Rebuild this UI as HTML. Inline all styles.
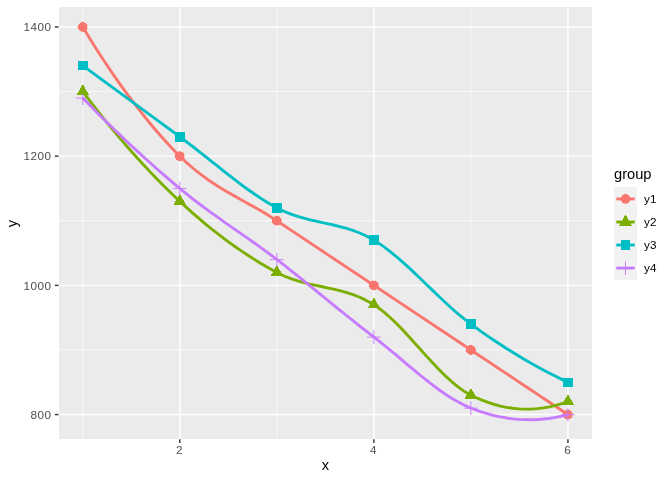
<!DOCTYPE html>
<html lang="en"><head><meta charset="utf-8"><title>plot</title>
<style>
html,body{margin:0;padding:0;background:#fff;}
body{width:672px;height:480px;overflow:hidden;}
svg{display:block;}
text{font-family:"Liberation Sans",Arial,Helvetica,sans-serif;}
.ax{font-size:11.73px;fill:#4D4D4D;letter-spacing:0.48px;}
.ti{font-size:14.67px;fill:#000;}
.lg{font-size:11.73px;fill:#000;letter-spacing:0.13px;}
.cr{shape-rendering:crispEdges;}
</style></head><body>
<svg width="672" height="480" viewBox="0 0 672 480">
<rect x="0" y="0" width="672" height="480" fill="#FFFFFF"/>
<rect class="cr" x="59" y="7" width="533" height="432" fill="#EBEBEB"/>
<g stroke="#FFFFFF" stroke-width="0.71" fill="none">
<line x1="58.52" x2="592.20" y1="349.96" y2="349.96"/>
<line x1="58.52" x2="592.20" y1="220.76" y2="220.76"/>
<line x1="58.52" x2="592.20" y1="91.57" y2="91.57"/>
<line y1="7.33" y2="439.35" x1="82.78" x2="82.78"/>
<line y1="7.33" y2="439.35" x1="276.84" x2="276.84"/>
<line y1="7.33" y2="439.35" x1="470.91" x2="470.91"/>
</g>
<g stroke="#FFFFFF" stroke-width="1.42" fill="none">
<line x1="58.52" x2="592.20" y1="414.56" y2="414.56"/>
<line x1="58.52" x2="592.20" y1="285.36" y2="285.36"/>
<line x1="58.52" x2="592.20" y1="156.16" y2="156.16"/>
<line x1="58.52" x2="592.20" y1="26.97" y2="26.97"/>
<line y1="7.33" y2="439.35" x1="179.81" x2="179.81"/>
<line y1="7.33" y2="439.35" x1="373.88" x2="373.88"/>
<line y1="7.33" y2="439.35" x1="567.94" x2="567.94"/>
</g>
<g>
<circle class="cr" cx="82.78" cy="26.97" r="4.74" fill="#F8766D"/><circle cx="82.78" cy="26.97" r="4.74" fill="none" stroke="#F8766D" stroke-width="0.35"/>
<circle class="cr" cx="179.81" cy="156.16" r="4.74" fill="#F8766D"/><circle cx="179.81" cy="156.16" r="4.74" fill="none" stroke="#F8766D" stroke-width="0.35"/>
<circle class="cr" cx="276.84" cy="220.76" r="4.74" fill="#F8766D"/><circle cx="276.84" cy="220.76" r="4.74" fill="none" stroke="#F8766D" stroke-width="0.35"/>
<circle class="cr" cx="373.88" cy="285.36" r="4.74" fill="#F8766D"/><circle cx="373.88" cy="285.36" r="4.74" fill="none" stroke="#F8766D" stroke-width="0.35"/>
<circle class="cr" cx="470.91" cy="349.96" r="4.74" fill="#F8766D"/><circle cx="470.91" cy="349.96" r="4.74" fill="none" stroke="#F8766D" stroke-width="0.35"/>
<circle class="cr" cx="567.94" cy="414.56" r="4.74" fill="#F8766D"/><circle cx="567.94" cy="414.56" r="4.74" fill="none" stroke="#F8766D" stroke-width="0.35"/>
<polygon class="cr" points="82.78,84.19 89.16,95.25 76.39,95.25" fill="#7CAE00"/>
<polygon class="cr" points="179.81,194.01 186.19,205.07 173.43,205.07" fill="#7CAE00"/>
<polygon class="cr" points="276.84,265.07 283.23,276.13 270.46,276.13" fill="#7CAE00"/>
<polygon class="cr" points="373.88,297.37 380.26,308.43 367.49,308.43" fill="#7CAE00"/>
<polygon class="cr" points="470.91,387.81 477.29,398.86 464.53,398.86" fill="#7CAE00"/>
<polygon class="cr" points="567.94,394.27 574.33,405.32 561.56,405.32" fill="#7CAE00"/>
<rect class="cr" x="78.04" y="60.99" width="9.48" height="9.48" fill="#00BFC4"/>
<rect class="cr" x="175.07" y="132.04" width="9.48" height="9.48" fill="#00BFC4"/>
<rect class="cr" x="272.10" y="203.10" width="9.48" height="9.48" fill="#00BFC4"/>
<rect class="cr" x="369.14" y="235.40" width="9.48" height="9.48" fill="#00BFC4"/>
<rect class="cr" x="466.17" y="319.38" width="9.48" height="9.48" fill="#00BFC4"/>
<rect class="cr" x="563.20" y="377.52" width="9.48" height="9.48" fill="#00BFC4"/>
<path d="M75.87 98.13H89.58M82.73 91.27V104.98" fill="none" stroke="#C77CFF" stroke-width="0.945"/>
<path d="M172.91 188.56H186.61M179.76 181.71V195.42" fill="none" stroke="#C77CFF" stroke-width="0.945"/>
<path d="M269.94 259.62H283.65M276.79 252.77V266.48" fill="none" stroke="#C77CFF" stroke-width="0.945"/>
<path d="M366.97 337.14H380.68M373.83 330.29V343.99" fill="none" stroke="#C77CFF" stroke-width="0.945"/>
<path d="M464.01 408.20H477.71M470.86 401.34V415.05" fill="none" stroke="#C77CFF" stroke-width="0.945"/>
<path d="M561.04 414.66H574.75M567.89 407.80V421.51" fill="none" stroke="#C77CFF" stroke-width="0.945"/>
</g>
<g fill="none" stroke-width="2.85" stroke-linejoin="round" stroke-linecap="butt">
<polyline points="82.78,26.97 88.92,37.06 95.06,46.89 101.20,56.47 107.34,65.78 113.48,74.84 119.63,83.64 125.77,92.18 131.91,100.46 138.05,108.48 144.19,116.24 150.33,123.75 156.47,130.99 162.62,137.98 168.76,144.71 174.90,151.18 181.04,157.38 187.18,163.17 193.32,168.49 199.46,173.41 205.60,177.96 211.75,182.21 217.89,186.19 224.03,189.96 230.17,193.57 236.31,197.06 242.45,200.49 248.59,203.90 254.73,207.34 260.88,210.86 267.02,214.52 273.16,218.35 279.30,222.40 285.44,226.49 291.58,230.58 297.72,234.66 303.87,238.75 310.01,242.84 316.15,246.93 322.29,251.02 328.43,255.11 334.57,259.19 340.71,263.28 346.85,267.37 353.00,271.46 359.14,275.55 365.28,279.64 371.42,283.73 377.56,287.81 383.70,291.90 389.84,295.99 395.99,300.08 402.13,304.17 408.27,308.26 414.41,312.35 420.55,316.43 426.69,320.52 432.83,324.61 438.97,328.70 445.12,332.79 451.26,336.88 457.40,340.96 463.54,345.05 469.68,349.14 475.82,353.23 481.96,357.32 488.10,361.41 494.25,365.50 500.39,369.58 506.53,373.67 512.67,377.76 518.81,381.85 524.95,385.94 531.09,390.03 537.24,394.12 543.38,398.20 549.52,402.29 555.66,406.38 561.80,410.47 567.94,414.56" stroke="#F8766D"/>
<polyline points="82.78,91.57 88.92,99.67 95.06,107.61 101.20,115.40 107.34,123.03 113.48,130.51 119.63,137.83 125.77,145.00 131.91,152.01 138.05,158.87 144.19,165.57 150.33,172.12 156.47,178.51 162.62,184.75 168.76,190.83 174.90,196.75 181.04,202.52 187.18,208.14 193.32,213.60 199.46,218.90 205.60,224.05 211.75,229.05 217.89,233.89 224.03,238.57 230.17,243.10 236.31,247.47 242.45,251.69 248.59,255.75 254.73,259.66 260.88,263.41 267.02,267.01 273.16,270.45 279.30,273.71 285.44,276.52 291.58,278.90 297.72,280.90 303.87,282.62 310.01,284.12 316.15,285.47 322.29,286.74 328.43,288.03 334.57,289.38 340.71,290.89 346.85,292.62 353.00,294.64 359.14,297.04 365.28,299.88 371.42,303.24 377.56,307.21 383.70,311.91 389.84,317.23 395.99,323.08 402.13,329.34 408.27,335.91 414.41,342.67 420.55,349.52 426.69,356.35 432.83,363.05 438.97,369.52 445.12,375.65 451.26,381.32 457.40,386.43 463.54,390.88 469.68,394.55 475.82,397.52 481.96,400.15 488.10,402.45 494.25,404.40 500.39,406.02 506.53,407.31 512.67,408.25 518.81,408.86 524.95,409.14 531.09,409.08 537.24,408.68 543.38,407.94 549.52,406.87 555.66,405.46 561.80,403.72 567.94,401.64" stroke="#7CAE00"/>
<polyline points="82.78,65.73 88.92,70.22 95.06,74.72 101.20,79.22 107.34,83.72 113.48,88.21 119.63,92.71 125.77,97.21 131.91,101.71 138.05,106.20 144.19,110.70 150.33,115.20 156.47,119.69 162.62,124.19 168.76,128.69 174.90,133.19 181.04,137.69 187.18,142.28 193.32,147.00 199.46,151.81 205.60,156.68 211.75,161.58 217.89,166.48 224.03,171.36 230.17,176.17 236.31,180.91 242.45,185.52 248.59,189.99 254.73,194.29 260.88,198.38 267.02,202.23 273.16,205.83 279.30,209.11 285.44,211.95 291.58,214.36 297.72,216.42 303.87,218.20 310.01,219.76 316.15,221.18 322.29,222.52 328.43,223.85 334.57,225.25 340.71,226.77 346.85,228.49 353.00,230.47 359.14,232.79 365.28,235.52 371.42,238.72 377.56,242.44 383.70,246.65 389.84,251.29 395.99,256.28 402.13,261.59 408.27,267.14 414.41,272.87 420.55,278.74 426.69,284.68 432.83,290.62 438.97,296.52 445.12,302.31 451.26,307.93 457.40,313.33 463.54,318.44 469.68,323.21 475.82,327.69 481.96,332.05 488.10,336.31 494.25,340.46 500.39,344.52 506.53,348.46 512.67,352.31 518.81,356.05 524.95,359.69 531.09,363.22 537.24,366.66 543.38,369.98 549.52,373.21 555.66,376.33 561.80,379.35 567.94,382.26" stroke="#00BFC4"/>
<polyline points="82.78,98.03 88.92,104.32 95.06,110.54 101.20,116.69 107.34,122.75 113.48,128.74 119.63,134.65 125.77,140.48 131.91,146.24 138.05,151.92 144.19,157.52 150.33,163.04 156.47,168.48 162.62,173.85 168.76,179.14 174.90,184.35 181.04,189.48 187.18,194.47 193.32,199.30 199.46,204.00 205.60,208.57 211.75,213.05 217.89,217.45 224.03,221.79 230.17,226.09 236.31,230.37 242.45,234.65 248.59,238.94 254.73,243.28 260.88,247.68 267.02,252.15 273.16,256.72 279.30,261.41 285.44,266.18 291.58,271.01 297.72,275.89 303.87,280.82 310.01,285.79 316.15,290.77 322.29,295.78 328.43,300.78 334.57,305.79 340.71,310.78 346.85,315.74 353.00,320.67 359.14,325.55 365.28,330.39 371.42,335.15 377.56,339.90 383.70,344.80 389.84,349.83 395.99,354.96 402.13,360.14 408.27,365.32 414.41,370.46 420.55,375.52 426.69,380.44 432.83,385.20 438.97,389.73 445.12,394.00 451.26,397.97 457.40,401.59 463.54,404.81 469.68,407.60 475.82,409.98 481.96,412.09 488.10,413.95 494.25,415.55 500.39,416.89 506.53,417.97 512.67,418.80 518.81,419.36 524.95,419.67 531.09,419.71 537.24,419.50 543.38,419.03 549.52,418.30 555.66,417.31 561.80,416.06 567.94,414.56" stroke="#C77CFF"/>
</g>
<g stroke="#333333" stroke-width="1.42" fill="none">
<line x1="54.85" x2="58.52" y1="414.56" y2="414.56"/>
<line x1="54.85" x2="58.52" y1="285.36" y2="285.36"/>
<line x1="54.85" x2="58.52" y1="156.16" y2="156.16"/>
<line x1="54.85" x2="58.52" y1="26.97" y2="26.97"/>
<line y1="439.35" y2="443.02" x1="179.81" x2="179.81"/>
<line y1="439.35" y2="443.02" x1="373.88" x2="373.88"/>
<line y1="439.35" y2="443.02" x1="567.94" x2="567.94"/>
</g>
<text class="ax" x="51.49" y="418.76" text-anchor="end">800</text>
<text class="ax" x="51.49" y="289.56" text-anchor="end">1000</text>
<text class="ax" x="51.49" y="160.36" text-anchor="end">1200</text>
<text class="ax" x="51.49" y="31.17" text-anchor="end">1400</text>
<text class="ax" x="179.51" y="453.65" text-anchor="middle">2</text>
<text class="ax" x="373.58" y="453.65" text-anchor="middle">4</text>
<text class="ax" x="567.64" y="453.65" text-anchor="middle">6</text>
<text class="ti" x="325.44" y="469.5" text-anchor="middle">x</text>
<text class="ti" transform="translate(17.2,223.54) rotate(-90)" text-anchor="middle">y</text>
<text class="ti" x="614.0" y="178.7">group</text>
<rect class="cr" x="614" y="187" width="23" height="93" fill="#F2F2F2"/>
<circle class="cr" cx="625.52" cy="198.95" r="4.74" fill="#F8766D"/><circle cx="625.52" cy="198.95" r="4.74" fill="none" stroke="#F8766D" stroke-width="0.35"/>
<line x1="616.30" x2="634.74" y1="198.95" y2="198.95" stroke="#F8766D" stroke-width="2.85"/>
<text class="lg" x="644.1" y="203.15">y1</text>
<polygon class="cr" points="625.52,214.62 631.90,225.68 619.14,225.68" fill="#7CAE00"/>
<line x1="616.30" x2="634.74" y1="221.99" y2="221.99" stroke="#7CAE00" stroke-width="2.85"/>
<text class="lg" x="644.1" y="226.19">y2</text>
<rect class="cr" x="620.78" y="240.29" width="9.48" height="9.48" fill="#00BFC4"/>
<line x1="616.30" x2="634.74" y1="245.03" y2="245.03" stroke="#00BFC4" stroke-width="2.85"/>
<text class="lg" x="644.1" y="249.23">y3</text>
<path d="M618.62 268.17H632.32M625.47 261.32V275.02" fill="none" stroke="#C77CFF" stroke-width="0.945"/>
<line x1="616.30" x2="634.74" y1="268.07" y2="268.07" stroke="#C77CFF" stroke-width="2.85"/>
<text class="lg" x="644.1" y="272.27">y4</text>
</svg>
</body></html>
